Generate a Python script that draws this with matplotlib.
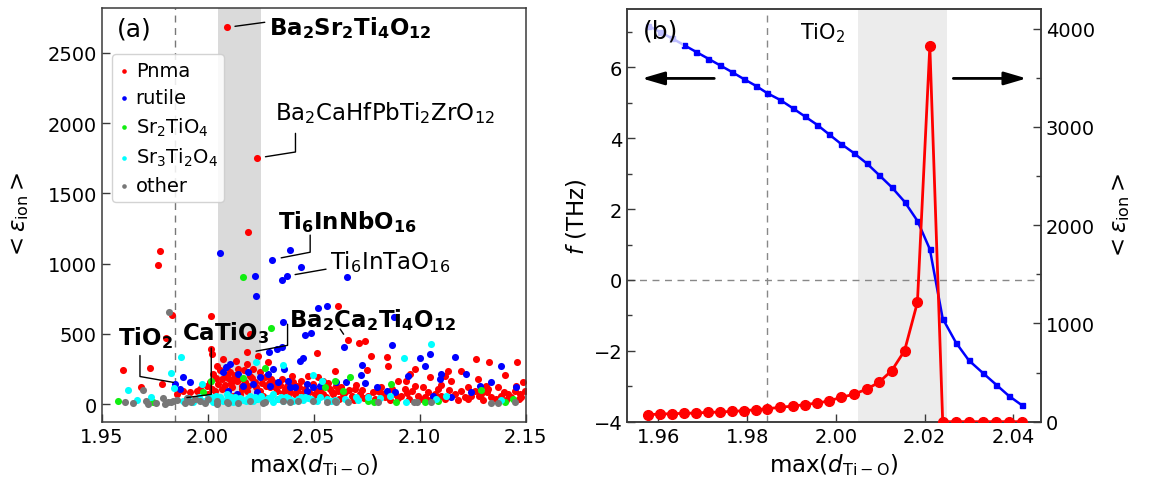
import matplotlib
matplotlib.use('Agg')
import matplotlib.pyplot as plt
from matplotlib.ticker import MultipleLocator, FormatStrFormatter

# ---------------- Panel (a) data: max(d_Ti-O) vs <eps_ion> ----------------
pnma_x = [2.0090, 2.0234, 2.0191, 1.9775, 1.9767, 1.9830, 2.0014, 2.0616, 2.0200, 1.9803,
          1.9602, 1.9728, 1.9685, 1.9783,
          2.0016, 2.0019, 2.0187, 2.0517, 2.0600, 2.0042, 2.0071, 2.0105, 2.0134, 2.0184,
          2.0239, 2.0286, 2.0086, 2.0137, 2.0200, 2.0223, 2.0270, 2.0310, 2.0349, 2.0373,
          2.0404, 2.0440, 2.0475, 2.0498, 2.0545, 2.0577, 2.0608, 2.0050, 2.0066, 2.0113,
          2.0160, 2.0184, 2.0247, 2.0294, 2.0325, 2.0357, 2.0420, 2.0451, 2.0514, 2.0545,
          2.0593, 1.9917, 1.9948, 2.0003, 2.0035, 2.0152, 2.0262, 2.0467, 2.0090, 2.0145,
          2.0121, 2.0176, 2.0215, 2.0247, 2.0066, 2.0027, 1.9995, 1.9964, 1.9885, 1.9854,
          2.0396, 2.0522,
          2.0660, 2.0713, 2.0741, 2.0773, 2.0844, 2.0852, 2.0754, 2.0954, 2.0977, 2.1048,
          2.1119, 2.1134, 2.1194, 2.1265, 2.1328, 2.1402, 2.1461, 2.0896, 2.0938, 2.1150,
          2.1276, 2.1315, 2.1370, 2.1417, 2.1457, 2.1488, 2.0616, 2.0647, 2.0679, 2.0718,
          2.0757, 2.0804, 2.0836, 2.0883, 2.0914, 2.0962, 2.0993, 2.1024, 2.1072, 2.1103,
          2.1166, 2.1213, 2.1245, 2.1292, 2.1339, 2.1386, 2.1433, 2.1472, 2.1496, 2.0631,
          2.0694, 2.0820, 2.0930, 2.1017, 2.1087, 2.1197, 2.1260, 2.1323, 2.1449,
          2.0330, 2.0380, 2.0440, 2.0500, 2.0560, 2.0620, 2.0690, 2.0740, 2.0790, 2.0860,
          2.0900, 2.0950, 2.1000, 2.1050, 2.1120, 2.1180, 2.1230, 2.1300, 2.1360, 2.1410,
          2.1470, 2.1320, 2.1230, 2.1100, 2.0980, 2.0870, 2.0700, 2.0560, 2.0420, 2.0290,
          2.0160, 2.0080, 2.0020, 2.0120, 2.0200, 2.0280,
          2.0010, 2.0040, 2.0060, 2.0095, 2.0110, 2.0130, 2.0150, 2.0170, 2.0190, 2.0210,
          2.0230, 2.0255, 2.0275, 2.0300, 2.0320, 2.0340, 2.0365, 2.0390, 2.0410, 2.0430,
          2.0460, 2.0480, 2.0505, 2.0530, 2.0570, 2.0585, 2.0640, 2.0665, 2.0730, 2.0780,
          2.0820, 2.0940, 2.1040, 2.1140, 2.1280, 2.1400, 2.1480]
pnma_y = [2680, 1751, 1223, 1088, 993, 635, 630, 701, 499, 469,
          246, 258, 121, 144,
          393, 357, 369, 362, 239, 274, 322, 227, 310, 286,
          345, 298, 203, 168, 203, 156, 191, 156, 179, 132,
          156, 168, 203, 144, 168, 108, 132, 144, 108, 120,
          132, 96, 96, 120, 96, 80, 96, 80, 96, 73,
          73, 85, 96, 73, 96, 73, 61, 61, 262, 250,
          179, 156, 250, 227, 179, 215, 132, 108, 96, 73,
          203, 191,
          457, 435, 452, 345, 333, 274, 246, 215, 250, 191,
          203, 234, 234, 322, 298, 208, 298, 168, 168, 168,
          179, 132, 120, 73, 132, 156, 96, 85, 61, 73,
          61, 96, 49, 73, 61, 96, 61, 49, 73, 56,
          73, 49, 61, 73, 49, 61, 49, 73, 96, 120,
          108, 120, 108, 120, 108, 96, 96, 108, 96,
          40, 55, 45, 35, 50, 40, 30, 45, 35, 30,
          45, 35, 40, 30, 40, 30, 35, 30, 35, 28,
          38, 85, 120, 140, 130, 110, 140, 130, 130, 150,
          110, 140, 110, 60, 50, 45,
          160, 190, 240, 185, 150, 205, 180, 240, 130, 190,
          120, 150, 130, 180, 120, 140, 110, 90, 70, 120,
          110, 90, 70, 100, 150, 90, 70, 100, 100, 90,
          80, 80, 90, 100, 60, 90, 50]

rutile_x = [2.0058, 2.0223, 2.0228, 2.0302, 2.0388, 2.0440, 2.0352, 2.0376, 2.0658, 2.0519,
            2.0561, 2.0880, 2.0357, 2.0459, 2.0487,
            2.0291, 2.0325, 2.0349, 2.0435, 2.0451, 1.9885, 1.9917, 1.9846, 1.9869, 2.0085,
            2.0105, 2.0071, 2.0145, 2.0192, 2.0286, 2.0310, 2.0360, 2.0380, 2.0247, 2.0215,
            2.0168, 2.0294, 2.0333, 2.0388, 2.0412, 2.0467, 2.0498, 2.0530, 2.0608, 2.0097,
            2.0231, 2.0137, 2.0467,
            2.0644, 2.0870, 2.1001, 2.1048, 2.1024, 2.1169, 2.1386, 2.1221, 2.0729, 2.0723,
            2.0741, 2.0655, 2.1103, 2.1095, 2.0946, 2.0797, 2.0844, 2.1245, 2.1284, 2.1336,
            2.1457, 2.1150, 2.1064, 2.0883]
rutile_y = [1073, 910, 768, 1028, 1099, 974, 882, 914, 903, 683,
            697, 618, 587, 495, 506,
            369, 393, 405, 310, 329, 191, 156, 146, 108, 262,
            286, 227, 215, 227, 215, 250, 250, 168, 191, 144,
            132, 132, 156, 120, 120, 144, 120, 132, 156, 96,
            85, 73, 96,
            409, 423, 326, 357, 274, 333, 274, 215, 281, 208,
            149, 156, 215, 179, 198, 120, 96, 85, 132, 160,
            120, 49, 61, 89]

sr2_x = [2.0168, 2.0297, 2.0014, 2.0270, 2.0168, 2.0553, 2.0600, 1.9980, 1.9578, 1.9743,
         2.0671, 2.0639, 2.0867, 2.1289, 2.0757, 2.0785, 2.0891, 2.1024, 2.1087, 2.1402,
         2.1441, 2.0110, 2.0230, 1.9900]
sr2_y = [907, 540, 163, 255, 184, 120, 163, 85, 26, 14,
         196, 96, 144, 104, 25, 18, 18, 18, 25, 18,
         37, 30, 40, 20]

sr3_x = [1.9625, 1.9668, 1.9827, 1.9872, 1.9842, 1.9735, 1.9972, 2.0228, 2.0354, 2.0498,
         2.0538, 2.1053, 2.0925, 2.0702, 2.0710, 2.0757, 2.0812, 2.0859, 2.0938, 2.1079,
         2.1127, 2.1386, 2.0608,
         1.9885, 1.9909, 1.9932, 1.9956, 1.9980, 2.0003, 2.0027, 2.0050, 2.0074, 2.0097,
         2.0121, 2.0145, 2.0168, 2.0192, 2.0215, 2.0239, 2.0262, 2.0286, 2.0310, 2.0333,
         2.0357, 2.0380, 2.0404, 2.0428, 2.0451, 2.0475, 2.0514, 2.0561, 2.0600, 2.0090,
         2.0200, 2.0310, 1.9960, 2.0040, 2.0130, 2.0250, 2.0370, 2.0460,
         1.9995, 2.0015, 2.0060, 2.0085, 2.0110, 2.0155, 2.0180, 2.0225, 2.0275, 2.0300,
         2.0345, 2.0395, 2.0440, 2.0490, 2.0530, 2.0580, 2.0650]
sr3_y = [102, 33, 225, 334, 116, 54, 144, 298, 281, 208,
         168, 428, 329, 49, 32, 49, 42, 56, 18, 37,
         56, 32, 25,
         25, 42, 18, 37, 23, 47, 18, 37, 25, 42,
         18, 37, 28, 47, 21, 37, 25, 42, 18, 35,
         23, 44, 21, 37, 28, 42, 23, 37, 28, 73,
         61, 73, 55, 60, 55, 58, 52, 55,
         30, 52, 48, 30, 52, 45, 20, 52, 32, 55,
         48, 30, 48, 35, 48, 22, 40]

other_x = [1.9819, 1.9696, 1.9610, 1.9649, 1.9707, 1.9720, 1.9754, 1.9790, 1.9801, 1.9827,
           1.9853, 1.9893, 1.9921, 1.9963, 1.9987, 2.0042, 2.0097, 2.0144, 2.0262,
           1.9814, 1.9838, 1.9901, 1.9940, 2.0000, 2.0042, 2.0090, 2.0200, 2.0270, 2.0357,
           2.0388, 2.0428, 2.0498, 2.0561, 2.0600,
           2.0663, 2.0608, 2.0804, 2.0974, 2.0990, 2.1056, 2.1339, 2.1370, 2.1449]
other_y = [659, 102, 14, 9, 21, 2, 9, 42, 2, 14,
           31, 9, 14, 26, 7, 2, 9, 7, 7,
           18, 25, 42, 37, 37, 25, 18, 25, 14, 25,
           18, 25, 25, 14, 25,
           14, 18, 14, 18, 18, 14, 9, 9, 14]

# ---------------- Panel (b) data: TiO2 under strain ----------------
d_tio = [1.9577, 1.9604, 1.9631, 1.9658, 1.9685, 1.9712, 1.9739, 1.9766, 1.9793, 1.9820,
         1.9846, 1.9875, 1.9903, 1.9930, 1.9958, 1.9984, 2.0011, 2.0040, 2.0070, 2.0097,
         2.0126, 2.0155, 2.0184, 2.0212, 2.0241, 2.0271, 2.0300, 2.0332, 2.0362, 2.0390,
         2.0420]
freq_thz = [7.18, 7.00, 6.82, 6.63, 6.44, 6.25, 6.06, 5.87, 5.67, 5.48,
            5.27, 5.08, 4.85, 4.62, 4.38, 4.12, 3.85, 3.59, 3.29, 2.97,
            2.62, 2.21, 1.67, 0.87, -1.09, -1.77, -2.27, -2.63, -2.96, -3.27,
            -3.54]
eps_ion = [71, 78, 81, 85, 88, 95, 98, 105, 112, 122,
           132, 146, 159, 173, 190, 210, 247, 278, 332, 400,
           519, 722, 1214, 3824, 0, 0, 0, 0, 0, 0,
           0]

d_tio2_ref = 1.9846
span = (2.005, 2.025)

# ---------------- figure ----------------
fig = plt.figure(figsize=(11.57, 4.85), dpi=100)
axa = fig.add_axes([0.0879, 0.1285, 0.3663, 0.8523])
axb = fig.add_axes([0.5422, 0.1285, 0.3573, 0.8509])

spc = '#3a3a3a'
TICK = 14
LAB = 16.5


def style(ax):
    for s in ax.spines.values():
        s.set_color(spc)
        s.set_linewidth(1.1)
    ax.tick_params(which='both', direction='in', colors=spc, labelcolor='black',
                   labelsize=TICK)
    ax.tick_params(which='major', length=6, width=1)
    ax.tick_params(which='minor', length=3.5, width=1)


# ---- panel (a)
axa.axvspan(*span, color='#dadada', lw=0, zorder=0)
axa.axvline(d_tio2_ref, color='#777777', ls=(0, (5, 4)), lw=1, zorder=1)
S = 26
axa.scatter(pnma_x, pnma_y, s=S, c='#ff0000', linewidths=0, label='Pnma', zorder=2)
axa.scatter(rutile_x, rutile_y, s=S, c='#0000ff', linewidths=0, label='rutile', zorder=2)
axa.scatter(sr2_x, sr2_y, s=S, c='#11ee11', linewidths=0, label='Sr$_2$TiO$_4$', zorder=2)
axa.scatter(sr3_x, sr3_y, s=S, c='#00ffff', linewidths=0, label='Sr$_3$Ti$_2$O$_4$', zorder=2)
axa.scatter(other_x, other_y, s=S, c='#777777', linewidths=0, label='other', zorder=2)

axa.set_xlim(1.95, 2.15)
axa.set_ylim(-124, 2816)
axa.set_xticks([1.95, 2.00, 2.05, 2.10, 2.15])
axa.xaxis.set_major_formatter(FormatStrFormatter('%.2f'))
axa.set_yticks([0, 500, 1000, 1500, 2000, 2500])
style(axa)
axa.set_xlabel(r'max($d_{\rm Ti-O}$)', fontsize=LAB)
axa.set_ylabel(r'$<\varepsilon_{\rm ion}>$', fontsize=LAB, labelpad=12)

axa.text(0.036, 0.95, '(a)', transform=axa.transAxes, fontsize=18, va='center', ha='left')
leg = axa.legend(loc='upper left', bbox_to_anchor=(0.025, 0.889), borderaxespad=0,
                 fontsize=14, handlelength=0.5, handletextpad=0.35, borderpad=0.35,
                 labelspacing=0.42, scatterpoints=1, markerscale=0.65, framealpha=0.85)
leg.get_frame().set_edgecolor('#cccccc')

lk = dict(color='black', lw=1)


def ann(text, xy, xytext, bold=False, conn='arc3', relpos=(0, 0.5), sA=2, sB=5):
    props = dict(arrowstyle='-', connectionstyle=conn, relpos=relpos,
                 patchA=None, shrinkA=sA, shrinkB=sB, **lk)
    axa.annotate(text, xy=xy, xytext=xytext, textcoords='data', ha='left', va='center',
                 fontsize=16.5, fontweight='bold' if bold else 'normal',
                 arrowprops=props, zorder=6)


ann(r'$\mathbf{Ba_2Sr_2Ti_4O_{12}}$', (2.0090, 2680), (2.0289, 2680), True,
    relpos=(0, 0.72), sA=3, sB=6)
ann(r'Ba$_2$CaHfPbTi$_2$ZrO$_{12}$', (2.0234, 1751), (2.0318, 2078), False,
    conn='angle,angleA=90,angleB=9,rad=0', relpos=(0.093, 0), sA=6, sB=6)
ann(r'$\mathbf{Ti_6InNbO_{16}}$', (2.0302, 1028), (2.0333, 1305), True,
    conn='angle,angleA=90,angleB=11,rad=0', relpos=(0.23, 0), sA=1, sB=7)
ann(r'Ti$_6$InTaO$_{16}$', (2.0374, 912), (2.0578, 1021), False,
    relpos=(0, 0.2), sA=3, sB=6)
ann(r'$\mathbf{Ba_2Ca_2Ti_4O_{12}}$', (2.0209, 372), (2.0385, 606), True,
    conn='angle,angleA=90,angleB=10.5,rad=0', relpos=(-0.01, 0.3), sA=0, sB=3)
axa.annotate('', xy=(2.0660, 457), xytext=(2.0625, 535),
             arrowprops=dict(arrowstyle='-', shrinkA=0, shrinkB=5, **lk))
ann(r'$\mathbf{CaTiO_3}$', (1.9889, 45), (1.9877, 512), True,
    conn='angle,angleA=90,angleB=7.5,rad=0', relpos=(0.34, 0), sA=2, sB=2)
ann(r'$\mathbf{TiO_2}$', (1.9851, 152), (1.9577, 478), True,
    conn='angle,angleA=90,angleB=-10,rad=0', relpos=(0.4, 0), sA=4, sB=2)

# ---- panel (b)
axb.axvspan(*span, color='#ececec', lw=0, zorder=0)
axb.axvline(d_tio2_ref, color='#888888', ls=(0, (5, 4)), lw=1, zorder=1)
axb.axhline(0, color='#888888', ls=(0, (5, 4)), lw=1, zorder=1)
axb.plot(d_tio, freq_thz, '-s', color='#0000ff', ms=3.6, lw=1.8, zorder=3)
axb.set_xlim(1.953, 2.0462)
axb.set_ylim(-4.0, 7.65)
axb.set_xticks([1.96, 1.98, 2.00, 2.02, 2.04])
axb.xaxis.set_major_formatter(FormatStrFormatter('%.2f'))
axb.yaxis.set_major_locator(MultipleLocator(2))
axb.yaxis.set_minor_locator(MultipleLocator(1))
style(axb)
axb.set_xlabel(r'max($d_{\rm Ti-O}$)', fontsize=LAB)
axb.set_ylabel(r'$f$ (THz)', fontsize=LAB, labelpad=4)

ax2 = axb.twinx()
ax2.plot(d_tio, eps_ion, '-o', color='#ff0000', ms=7, lw=2, zorder=3)
ax2.set_ylim(0, 4200)
ax2.yaxis.set_major_locator(MultipleLocator(1000))
ax2.yaxis.set_minor_locator(MultipleLocator(500))
style(ax2)
ax2.tick_params(which='both', left=False, right=True, labelleft=False, labelright=True)
ax2.set_ylabel(r'$<\varepsilon_{\rm ion}>$', fontsize=LAB, rotation=90, labelpad=10)

axb.text(0.038, 0.947, '(b)', transform=axb.transAxes, fontsize=18, va='center', ha='left',
         zorder=10, bbox=dict(facecolor='white', edgecolor='none', alpha=0.75, pad=3))
ax2.text(0.418, 0.944, 'TiO$_2$', transform=axb.transAxes, fontsize=15, va='center',
         ha='left', zorder=10)

arr = dict(arrowstyle='-|>,head_length=0.75,head_width=0.22', color='black', lw=2,
           mutation_scale=18, shrinkA=0, shrinkB=0)
axb.annotate('', xy=(1.9563, 5.69), xytext=(1.9726, 5.69), arrowprops=arr)
axb.annotate('', xy=(2.0430, 5.69), xytext=(2.0265, 5.69), arrowprops=arr)

fig.savefig('out.png', dpi=100)
